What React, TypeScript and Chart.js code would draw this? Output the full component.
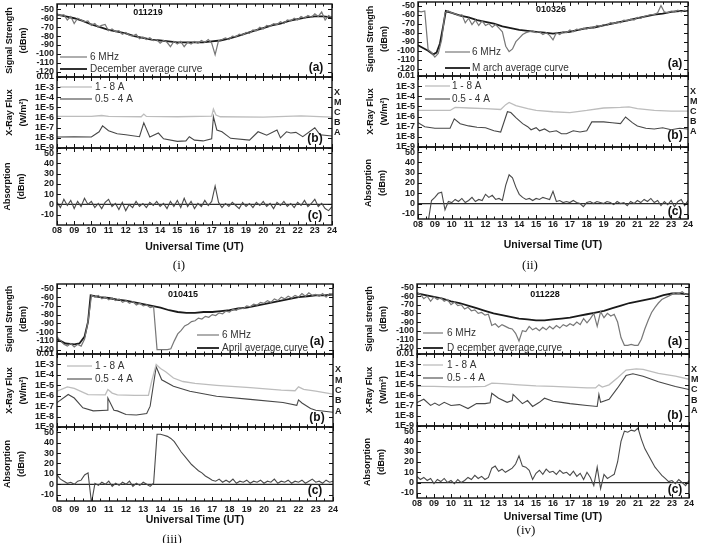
import React, { useEffect, useRef } from "react";
import { Chart, registerables } from "chart.js";

Chart.register(...registerables);

// ---------- time grids & tick values ----------
const T_FINE = Array.from({ length: 81 }, (_, i) => Math.round((8 + i * 0.2) * 10) / 10);
const T_HALF = Array.from({ length: 33 }, (_, i) => 8 + i * 0.5);
const HOUR_TICKS = [8, 9, 10, 11, 12, 13, 14, 15, 16, 17, 18, 19, 20, 21, 22, 23, 24];
const SIGNAL_TICKS = [-50, -60, -70, -80, -90, -100, -110, -120];
const ABS_TICKS = [50, 40, 30, 20, 10, 0, -10];
const FLUX_TICKS = [1e-2, 1e-3, 1e-4, 1e-5, 1e-6, 1e-7, 1e-8, 1e-9];
const FLUX_LABELS = ["0.01", "1E-3", "1E-4", "1E-5", "1E-6", "1E-7", "1E-8", "1E-9"];
const CLASS_TICKS = [3.16e-4, 3.16e-5, 3.16e-6, 3.16e-7, 3.16e-8];
const CLASS_LABELS = ["X", "M", "C", "B", "A"];
const ZERO_T = [8, 24];
const ZERO_V = [0, 0];

// ---------- (i) 011219 ----------
const I_SIG = [
  -55, -57, -56, -62, -58, -66, -60, -62, -64, -63,
  -68, -66, -70, -68, -67, -74, -72, -75, -74, -78,
  -76, -79, -80, -78, -83, -81, -84, -82, -85, -84,
  -88, -85, -87, -92, -86, -89, -86, -92, -87, -89,
  -86, -88, -85, -87, -84, -88, -101, -85, -84, -82,
  -84, -80, -81, -78, -79, -76, -77, -73, -74, -70,
  -72, -68, -69, -66, -67, -64, -66, -62, -63, -60,
  -62, -58, -60, -57, -59, -55, -58, -53, -62, -57,
  -59,
];
const I_AVG = [-56, -58, -60, -63, -67, -70, -73, -75, -77, -80, -82, -84, -85, -86, -87, -87, -87, -87, -86, -85, -83, -80, -77, -74, -71, -68, -66, -63, -61, -59, -58, -58, -59];
const I_XL_T = [8, 10, 10.6, 11, 12.9, 13.05, 13.2, 15, 17.0, 17.1, 17.25, 17.5, 20, 22.2, 24];
const I_XL = [1.3e-6, 1.3e-6, 1.6e-6, 1.3e-6, 1.2e-6, 2.2e-6, 1.3e-6, 1.2e-6, 1.4e-6, 7e-6, 1.8e-6, 1.2e-6, 1.1e-6, 1.5e-6, 1.1e-6];
const I_XS_T = [8, 9, 10, 10.45, 10.65, 11, 11.5, 12, 12.8, 13.05, 13.4, 13.9, 14.2, 15, 15.5, 15.7, 16, 16.5, 17.0, 17.1, 17.3, 17.6, 18.1, 19.2, 19.7, 20.2, 20.8, 21.0, 21.35, 21.6, 21.9, 22.3, 23.0, 23.3, 24];
const I_XS = [1.2e-8, 1.3e-8, 1.2e-8, 4e-8, 1.5e-7, 5e-8, 2.5e-8, 2e-8, 1.3e-8, 3e-7, 1.2e-8, 3e-8, 8e-9, 4.5e-9, 5e-9, 1.3e-8, 6e-9, 5e-9, 8e-9, 1.2e-6, 6e-8, 4e-8, 9e-9, 6e-9, 4e-8, 1.8e-8, 6e-8, 1e-8, 4e-8, 3e-8, 3.5e-8, 1.3e-8, 1e-7, 2e-8, 1.5e-8];
const I_ABS = [
  2, -3, 5, -1, 4, -4, 3, -2, 6, 0,
  3, -3, 1, -4, 2, 5, -2, 1, -5, 2,
  -6, 0, -3, 3, -2, 1, -3, 2, -1, 3,
  -2, 1, -4, 3, -2, 4, -3, 6, -2, 3,
  -4, 1, -2, 4, -1, 3, 18, 2, -3, 1,
  -2, 2, -1, -4, 2, -2, 1, -3, 2, -1,
  3, -2, 1, -4, 2, -1, 3, -2, 1, -3,
  2, -1, 4, -2, 1, 5, -2, 1, -4, -6,
  -2,
];

// ---------- (ii) 010326 ----------
const II_SIG = [
  -56, -57, -56, -99, -102, -107, -103, -88, -58, -56,
  -58, -59, -61, -60, -69, -64, -71, -66, -72, -67,
  -72, -70, -74, -71, -75, -79, -95, -101, -98, -90,
  -86, -82, -80, -79, -78, -80, -79, -82, -80, -83,
  -88, -80, -82, -79, -80, -77, -79, -76, -77, -75,
  -76, -74, -75, -72, -73, -71, -72, -69, -70, -68,
  -69, -66, -67, -65, -66, -63, -64, -62, -61, -60,
  -60, -58, -50, -57, -58, -56, -57, -55, -57, -55,
  -57,
];
const II_AVG_T = [8, 8.3, 8.6, 8.9, 9.1, 9.3, 9.5, 9.65, 10, 10.5, 11, 11.5, 12, 12.5, 13, 13.5, 14, 14.5, 15, 15.5, 16, 16.5, 17, 17.5, 18, 18.5, 19, 19.5, 20, 20.5, 21, 21.5, 22, 22.5, 23, 23.5, 24];
const II_AVG = [-94, -97, -100, -104, -102, -92, -72, -56, -58, -61, -63, -66, -68, -70, -73, -75, -77, -78, -79, -80, -81, -80, -79, -77, -75, -74, -72, -70, -68, -66, -64, -62, -60, -59, -57, -56, -56];
const II_XL_T = [8, 9, 9.9, 10.2, 11, 12, 12.9, 13.2, 13.4, 13.8, 14.5, 15, 16, 17, 18, 19, 20, 20.5, 21, 22, 23, 24];
const II_XL = [4e-6, 4e-6, 4e-6, 8e-6, 7e-6, 6e-6, 5e-6, 1.5e-5, 2.5e-5, 1.2e-5, 6e-6, 4e-6, 3e-6, 2.5e-6, 4e-6, 7e-6, 8e-6, 9e-6, 6e-6, 4e-6, 3.5e-6, 3.5e-6];
const II_XS_T = [8, 8.4, 9, 9.9, 10.15, 10.5, 11, 11.5, 12, 12.5, 12.9, 13.3, 13.5, 13.8, 14.2, 14.5, 14.7, 15, 15.2, 15.5, 15.8, 16.2, 16.5, 16.8, 17.2, 17.6, 18, 18.3, 19, 19.5, 20, 20.3, 20.7, 21, 21.5, 22, 22.5, 23, 23.5, 24];
const II_XS = [2.5e-7, 1e-7, 7e-8, 7e-8, 6e-7, 2e-7, 1.2e-7, 9e-8, 8e-8, 4e-8, 3e-8, 3e-6, 2.5e-6, 8e-7, 2e-7, 1e-7, 5e-8, 8e-8, 4e-8, 6e-8, 3e-8, 4e-8, 2e-8, 2e-8, 4e-8, 3e-8, 4e-8, 3e-7, 3e-7, 2.5e-7, 2e-7, 9e-7, 2.5e-7, 1.2e-7, 7e-8, 6e-8, 8e-8, 5e-8, 7e-8, 6e-8];
const II_ABS = [
  null, null, null, -18, 3, 6, 10, 11, -6, 2,
  1, 4, 2, 5, 1, 3, 6, 2, 4, 3,
  9, 6, 8, 4, 5, 3, 18, 28, 25, 16,
  9, 6, 4, 5, 3, 5, 4, 6, 5, 4,
  12, 2, 3, 1, 2, 1, 3, 1, 0, -3,
  1, 2, 0, 2, 1, 0, 2, 1, -1, 2,
  0, 1, -2, 2, 0, 3, 1, 4, 2, 5,
  1, 3, -2, 2, -1, 3, -3, 2, 4, -2,
  3,
];

// ---------- (iii) 010415 ----------
const III_SIG = [
  -105, -110, -114, -116, -113, -117, -114, -116, -108, -88,
  -58, -60, -58, -62, -60, -63, -61, -64, -62, -66,
  -64, -67, -65, -69, -67, -70, -69, -72, -71, -120,
  -120, -120, -120, -119, -110, -102, -98, -93, -91, -88,
  -87, -84, -85, -82, -83, -80, -81, -78, -79, -76,
  -77, -74, -75, -72, -73, -70, -71, -68, -69, -66,
  -67, -64, -66, -62, -64, -60, -62, -59, -61, -58,
  -60, -56, -59, -55, -58, -57, -59, -56, -60, -56,
  -57,
];
const III_AVG_T = [8, 8.5, 9, 9.3, 9.6, 9.8, 9.95, 10.2, 10.5, 11, 11.5, 12, 12.5, 13, 13.5, 14, 14.5, 15, 15.5, 16, 16.5, 17, 17.5, 18, 18.5, 19, 19.5, 20, 20.5, 21, 21.5, 22, 22.5, 23, 23.5, 24];
const III_AVG = [-108, -113, -114, -113, -105, -88, -58, -59, -60, -61, -63, -64, -66, -68, -70, -72, -75, -77, -78, -78, -77, -77, -76, -75, -73, -72, -70, -68, -66, -64, -62, -60, -59, -58, -58, -57];
const III_XL_T = [8, 8.6, 9.0, 9.8, 10.8, 10.95, 11.2, 11.5, 12.5, 13.3, 13.5, 13.75, 14.0, 14.3, 14.75, 15.3, 16, 17.25, 19.2, 21.0, 21.8, 22.0, 22.3, 23, 24];
const III_XL = [2.7e-6, 7e-6, 5e-6, 1.3e-6, 1.2e-6, 4e-6, 1.8e-6, 1.2e-6, 1.1e-6, 1.1e-6, 3e-5, 1e-3, 4e-4, 2e-4, 5e-5, 2.3e-5, 1.5e-5, 1e-5, 6e-6, 3.5e-6, 3e-6, 7e-6, 4e-6, 2.7e-6, 1.4e-6];
const III_XS_T = [8, 8.65, 9.0, 9.5, 10.1, 10.9, 10.95, 11.3, 11.5, 12.0, 12.6, 13.2, 13.4, 13.75, 14.07, 14.75, 15.7, 17.25, 19.2, 21.1, 21.9, 22.0, 22.2, 22.7, 23.0, 24];
const III_XS = [2.2e-7, 1.3e-6, 6e-7, 7e-8, 3.5e-8, 4e-8, 6e-7, 4e-8, 3.5e-8, 1.6e-8, 1.4e-8, 2e-8, 1e-7, 6e-4, 3.4e-5, 8e-6, 2.7e-6, 9e-7, 4.5e-7, 2.2e-7, 1.2e-7, 4e-7, 2e-7, 6e-8, 4e-8, 2.6e-8];
const III_ABS = [
  9, 5, 3, 1, 2, 0, 3, 4, 9, 11,
  -18, 1, -1, 2, 0, 3, -2, 1, -1, 2,
  0, 3, -2, 1, -1, 2, 0, -2, 1, 48,
  48, 47, 46, 44, 41, 36, 31, 27, 23, 19,
  16, 13, 11, 8, 6, 4, 3, 5, 2, 4,
  2, 5, 1, 3, 2, 4, 1, 3, 2, 4,
  1, 3, 2, 5, 1, 3, 2, 4, 1, 3,
  2, 4, 1, 3, 5, 2, 3, 1, 4, 2,
  3,
];

// ---------- (iv) 011228 ----------
const IV_SIG = [
  -56, -58, -63, -60, -66, -61, -64, -62, -66, -64,
  -70, -67, -71, -70, -75, -73, -77, -76, -80, -79,
  -82, -81, -94, -92, -96, -93, -95, -97, -98, -103,
  -112, -100, -101, -95, -99, -97, -100, -96, -99, -95,
  -98, -94, -97, -93, -95, -92, -94, -90, -93, -86,
  -91, -86, -80, -95, -78, -85, -80, -83, -81, -90,
  -108, -117, -117, -116, -117, -117, -110, -98, -88, -79,
  -73, -68, -64, -62, -60, -58, -56, -57, -55, -58,
  -57,
];
const IV_AVG = [-57, -59, -61, -63, -66, -68, -71, -74, -77, -80, -82, -84, -86, -87, -88, -88, -87, -86, -85, -83, -81, -79, -77, -74, -71, -68, -66, -64, -62, -59, -57, -57, -58];
const IV_XL_T = [8, 9, 10, 11, 12, 12.4, 13, 14, 15, 16, 17, 18, 18.5, 18.7, 18.9, 19.3, 19.8, 20.3, 20.9, 21.3, 22.2, 23.2, 24];
const IV_XL = [7e-6, 7e-6, 6.5e-6, 6.5e-6, 7e-6, 1.5e-5, 1.3e-5, 1e-5, 8e-6, 7e-6, 6e-6, 5e-6, 5e-6, 1e-5, 6e-6, 1e-5, 5e-5, 2.7e-4, 3.5e-4, 3.2e-4, 1.3e-4, 7e-5, 3.5e-5];
const IV_XS_T = [8, 8.4, 8.8, 9.05, 9.3, 9.6, 10, 10.5, 11, 11.5, 12.0, 12.3, 12.4, 12.8, 13.3, 13.6, 13.65, 14.2, 14.5, 14.8, 15.2, 15.5, 16, 16.5, 17, 18, 18.6, 18.7, 18.8, 19.3, 19.8, 20.3, 20.7, 21.3, 22.2, 23.2, 24];
const IV_XS = [1.9e-7, 4e-7, 1e-7, 1.7e-7, 1e-7, 2e-7, 1e-7, 1.2e-7, 5e-8, 1.5e-7, 1.5e-7, 1.8e-7, 1.5e-6, 5e-7, 2e-7, 3e-7, 1.2e-6, 1.5e-7, 3e-7, 8e-8, 2e-7, 5e-7, 2.5e-7, 2e-7, 1.5e-7, 1e-7, 8e-8, 1.2e-6, 2e-7, 4e-7, 5e-6, 8e-5, 1.2e-4, 7e-5, 2e-5, 7e-6, 3.5e-6];
const IV_ABS = [
  6, 3, 5, 2, 4, -1, 3, 1, 4, 0,
  2, -1, 3, 0, 2, 5, 3, 7, 4, 6,
  3, 5, 14, 16, 11, 13, 10, 12, 14, 18,
  26, 16, 15, 12, 3, 9, 12, 8, 13, 10,
  11, 8, 12, 9, 10, 7, 11, 6, 9, 3,
  10, 5, -3, 15, -6, 8, 4, 6, 8, 20,
  40, 50, 49, 51, 50, 53, 42, 33, 27, 21,
  15, 11, 7, 4, 1, 2, -1, 3, 0, -3,
  2,
];

// ---------- styling / layout ----------
const FONT = '"Liberation Sans", Arial, Helvetica, sans-serif';
const C_SIG = "#777777";
const C_AVG = "#1a1a1a";
const C_XL = "#bdbdbd";
const C_XS = "#474747";
const C_ABS = "#4a4a4a";
const C_ZERO = "#2a2a2a";
const PAD_L = 57;
const PAD_T = 11;
const PAD_R = 10;
const PAD_BOT = 11;
const RIGHT_W = 13;

type Txt = { text: string; x: number; y: number; size: number; bold?: boolean; align?: CanvasTextAlign; color?: string };
type Seg = { x1: number; x2: number; y: number; color: string; width: number };

function pts(ts: number[], vs: (number | null)[]) {
  const n = Math.min(ts.length, vs.length);
  const out: { x: number; y: number | null }[] = [];
  for (let i = 0; i < n; i++) out.push({ x: ts[i], y: vs[i] });
  return out;
}
function line(data: any[], color: string, width: number) {
  return { data, borderColor: color, borderWidth: width, pointRadius: 0, tension: 0, fill: false, spanGaps: false, yAxisID: "y", xAxisID: "x" };
}

const decorPlugin = {
  id: "decor",
  afterDatasetsDraw(chart: any, _args: any, opts: any) {
    const { ctx, chartArea: a } = chart;
    const xs = chart.scales.x;
    const ys = chart.scales.y;
    ctx.save();
    ctx.strokeStyle = "#111";
    ctx.lineWidth = 1;
    ctx.beginPath();
    const tick = (x1: number, y1: number, x2: number, y2: number) => {
      ctx.moveTo(x1, y1);
      ctx.lineTo(x2, y2);
    };
    HOUR_TICKS.forEach((h, i) => {
      const p = Math.round(xs.getPixelForValue(h)) + 0.5;
      tick(p, a.top, p, a.top + 4);
      tick(p, a.bottom, p, a.bottom - 4);
      if (i < HOUR_TICKS.length - 1) {
        const q = Math.round(xs.getPixelForValue(h + 0.5)) + 0.5;
        tick(q, a.top, q, a.top + 2.5);
        tick(q, a.bottom, q, a.bottom - 2.5);
      }
    });
    const yv: number[] = ys.ticks.map((t: any) => t.value);
    yv.forEach((v) => {
      const p = Math.round(ys.getPixelForValue(v)) + 0.5;
      tick(a.left, p, a.left + 4, p);
      tick(a.right, p, a.right - 4, p);
    });
    ctx.stroke();
    ctx.lineWidth = 1.4;
    ctx.strokeRect(a.left, a.top, a.right - a.left, a.bottom - a.top);
    (opts.segs || []).forEach((s: Seg) => {
      ctx.beginPath();
      ctx.strokeStyle = s.color;
      ctx.lineWidth = s.width;
      ctx.moveTo(a.left + s.x1, a.top + s.y);
      ctx.lineTo(a.left + s.x2, a.top + s.y);
      ctx.stroke();
    });
    (opts.texts || []).forEach((t: Txt) => {
      ctx.font = `${t.bold ? "bold " : ""}${t.size}px ${FONT}`;
      ctx.fillStyle = t.color || "#111";
      ctx.textAlign = t.align || "left";
      ctx.textBaseline = "middle";
      ctx.fillText(t.text, a.left + t.x, a.top + t.y);
    });
    ctx.restore();
  },
};

type SubSpec = {
  left: number; top: number; w: number; h: number;
  right: boolean; showX: boolean; padB: number; xPad: number;
  yType: "linear" | "logarithmic"; yMin: number; yMax: number;
  yTicks: number[]; yLabels: string[]; yTitle: string[]; titlePad: number;
  datasets: any[]; texts: Txt[]; segs: Seg[];
};

function buildConfig(s: SubSpec): any {
  const tickFont = { family: FONT, size: 9, weight: "bold" as const };
  const noGrid = { display: false, drawTicks: false, tickLength: 0 };
  const scales: any = {
    x: {
      type: "linear", min: 8, max: 24, bounds: "data", display: s.showX,
      afterBuildTicks: (sc: any) => { sc.ticks = HOUR_TICKS.map((v) => ({ value: v })); },
      afterFit: (sc: any) => { if (s.showX) sc.height = s.padB; },
      grid: noGrid, border: { display: false },
      ticks: {
        font: tickFont, color: "#1a1a1a", padding: s.xPad, maxRotation: 0, autoSkip: false,
        callback: (v: any) => (v < 10 ? "0" : "") + v,
      },
      title: { display: s.showX, text: "Universal Time (UT)", font: { family: FONT, size: 10.5, weight: "bold" }, color: "#111", padding: 0 },
    },
    y: {
      type: s.yType, min: s.yMin, max: s.yMax, bounds: "data", position: "left",
      afterBuildTicks: (sc: any) => { sc.ticks = s.yTicks.map((v) => ({ value: v })); },
      afterFit: (sc: any) => { sc.width = PAD_L; },
      grid: noGrid, border: { display: false },
      ticks: { font: tickFont, color: "#1a1a1a", padding: 3, autoSkip: false, callback: (_v: any, i: number) => s.yLabels[i] },
      title: {
        display: true, text: s.yTitle, color: "#111",
        font: { family: FONT, size: 9, weight: "bold", lineHeight: "14px" },
        padding: { top: s.titlePad, bottom: 0 },
      },
    },
  };
  if (s.right) {
    scales.y2 = {
      type: "logarithmic", min: 1e-9, max: 1e-2, bounds: "data", position: "right",
      afterBuildTicks: (sc: any) => { sc.ticks = CLASS_TICKS.map((v) => ({ value: v })); },
      afterFit: (sc: any) => { sc.width = RIGHT_W; },
      grid: noGrid, border: { display: false },
      ticks: { font: tickFont, color: "#1a1a1a", padding: 2, autoSkip: false, callback: (_v: any, i: number) => CLASS_LABELS[i] },
    };
  }
  return {
    type: "line",
    data: { datasets: s.datasets },
    options: {
      animation: false, responsive: false, maintainAspectRatio: false, events: [],
      layout: { autoPadding: false, padding: { left: 0, top: PAD_T, right: s.right ? 0 : PAD_R, bottom: s.showX ? 0 : PAD_BOT } },
      plugins: { legend: { display: false }, tooltip: { enabled: false }, decor: { texts: s.texts, segs: s.segs } },
      scales,
    },
    plugins: [decorPlugin],
  };
}

function SubChart({ s }: { s: SubSpec }) {
  const ref = useRef<HTMLCanvasElement>(null);
  const cw = PAD_L + s.w + (s.right ? RIGHT_W : PAD_R);
  const ch = PAD_T + s.h + (s.showX ? s.padB : PAD_BOT);
  useEffect(() => {
    const chart = new Chart(ref.current as HTMLCanvasElement, buildConfig(s));
    return () => chart.destroy();
  }, []);
  return (
    <canvas
      ref={ref}
      width={cw}
      height={ch}
      style={{ position: "absolute", left: s.left - PAD_L, top: s.top - PAD_T, width: cw, height: ch }}
    />
  );
}

type PanelDef = {
  L: number; R: number; T: number[]; padB: number; xPad: number;
  label: string; lx: number; ly: number;
  sigRange: number[]; absRange: number[]; sigTitle: string;
  sig: number[]; avgT: number[]; avg: number[];
  xlT: number[]; xl: number[]; xsT: number[]; xs: number[]; abs: (number | null)[];
  date: { text: string; x: number; y: number };
  tag: number[][];
  legA: { x1: number; x2: number; tx: number; y1: number; y2: number; avgName: string };
  legB: { x1: number; x2: number; tx: number; y1: number; y2: number };
};

const PANELS: PanelDef[] = [
  {
    L: 57, R: 332, T: [4, 77, 148, 225], padB: 28, xPad: 0, label: "(i)", lx: 179, ly: 265,
    sigRange: [-126, -44], absRange: [-20, 55], sigTitle: "Signal Strength",
    sig: I_SIG, avgT: T_HALF, avg: I_AVG, xlT: I_XL_T, xl: I_XL, xsT: I_XS_T, xs: I_XS, abs: I_ABS,
    date: { text: "011219", x: 91, y: 9 },
    tag: [[259, 64], [258, 62], [258, 68]],
    legA: { x1: 3, x2: 30, tx: 33, y1: 53, y2: 65, avgName: "December average curve" },
    legB: { x1: 3, x2: 35, tx: 38, y1: 10, y2: 22 },
  },
  {
    L: 418, R: 688, T: [2, 76, 147, 219], padB: 32, xPad: 0, label: "(ii)", lx: 530, ly: 265,
    sigRange: [-128, -46], absRange: [-15, 55], sigTitle: "Signal Strength",
    sig: II_SIG, avgT: II_AVG_T, avg: II_AVG, xlT: II_XL_T, xl: II_XL, xsT: II_XS_T, xs: II_XS, abs: II_ABS,
    date: { text: "010326", x: 133, y: 8 },
    tag: [[257, 62], [257, 60], [257, 65]],
    legA: { x1: 27, x2: 52, tx: 54, y1: 50, y2: 66, avgName: "M arch average curve" },
    legB: { x1: 7, x2: 32, tx: 34, y1: 10, y2: 23 },
  },
  {
    L: 57, R: 333, T: [284, 354, 427, 501], padB: 25, xPad: 3, label: "(iii)", lx: 172, ly: 539,
    sigRange: [-125, -45], absRange: [-16, 55], sigTitle: "Signal Strength",
    sig: III_SIG, avgT: III_AVG_T, avg: III_AVG, xlT: III_XL_T, xl: III_XL, xsT: III_XS_T, xs: III_XS, abs: III_ABS,
    date: { text: "010415", x: 126, y: 11 },
    tag: [[260, 58], [260, 64], [258, 64]],
    legA: { x1: 140, x2: 162, tx: 165, y1: 51, y2: 64, avgName: "April average curve" },
    legB: { x1: 10, x2: 35, tx: 38, y1: 12, y2: 25 },
  },
  {
    L: 417, R: 689, T: [284, 354, 426, 498], padB: 25, xPad: 0, label: "(iv)", lx: 526, ly: 530,
    sigRange: [-127, -46], absRange: [-15, 55], sigTitle: "Signal strength",
    sig: IV_SIG, avgT: T_HALF, avg: IV_AVG, xlT: IV_XL_T, xl: IV_XL, xsT: IV_XS_T, xs: IV_XS, abs: IV_ABS,
    date: { text: "011228", x: 128, y: 11 },
    tag: [[258, 58], [258, 62], [258, 64]],
    legA: { x1: 6, x2: 26, tx: 30, y1: 49, y2: 64, avgName: "D ecember average curve" },
    legB: { x1: 6, x2: 26, tx: 30, y1: 11, y2: 24 },
  },
];

function specsFor(p: PanelDef): SubSpec[] {
  const w = p.R - p.L;
  const legText = (text: string, x: number, y: number): Txt => ({ text, x, y, size: 10, color: "#333" });
  const top: SubSpec = {
    left: p.L, top: p.T[0], w, h: p.T[1] - p.T[0], right: false, showX: false, padB: 0, xPad: 0,
    yType: "linear", yMin: p.sigRange[0], yMax: p.sigRange[1], yTicks: SIGNAL_TICKS, yLabels: SIGNAL_TICKS.map(String),
    yTitle: [p.sigTitle, "(dBm)"], titlePad: 3,
    datasets: [line(pts(T_FINE, p.sig), C_SIG, 1.2), line(pts(p.avgT, p.avg), C_AVG, 1.8)],
    texts: [
      { text: p.date.text, x: p.date.x, y: p.date.y, size: 9, bold: true, align: "center" },
      { text: "(a)", x: p.tag[0][0], y: p.tag[0][1], size: 12, bold: true, align: "center" },
      legText("6 MHz", p.legA.tx, p.legA.y1),
      legText(p.legA.avgName, p.legA.tx, p.legA.y2),
    ],
    segs: [
      { x1: p.legA.x1, x2: p.legA.x2, y: p.legA.y1, color: C_SIG, width: 1.2 },
      { x1: p.legA.x1, x2: p.legA.x2, y: p.legA.y2, color: C_AVG, width: 1.8 },
    ],
  };
  const mid: SubSpec = {
    left: p.L, top: p.T[1], w, h: p.T[2] - p.T[1], right: true, showX: false, padB: 0, xPad: 0,
    yType: "logarithmic", yMin: 1e-9, yMax: 1e-2, yTicks: FLUX_TICKS, yLabels: FLUX_LABELS,
    yTitle: ["X-Ray Flux", "(W/m²)"], titlePad: 3,
    datasets: [line(pts(p.xlT, p.xl), C_XL, 1.3), line(pts(p.xsT, p.xs), C_XS, 1.1)],
    texts: [
      { text: "(b)", x: p.tag[1][0], y: p.tag[1][1], size: 12, bold: true, align: "center" },
      legText("1 - 8 A", p.legB.tx, p.legB.y1),
      legText("0.5 - 4 A", p.legB.tx, p.legB.y2),
    ],
    segs: [
      { x1: p.legB.x1, x2: p.legB.x2, y: p.legB.y1, color: C_XL, width: 1.3 },
      { x1: p.legB.x1, x2: p.legB.x2, y: p.legB.y2, color: C_XS, width: 1.1 },
    ],
  };
  const bot: SubSpec = {
    left: p.L, top: p.T[2], w, h: p.T[3] - p.T[2], right: false, showX: true, padB: p.padB, xPad: p.xPad,
    yType: "linear", yMin: p.absRange[0], yMax: p.absRange[1], yTicks: ABS_TICKS, yLabels: ABS_TICKS.map(String),
    yTitle: ["Absorption", "(dBm)"], titlePad: 1,
    datasets: [line(pts(T_FINE, p.abs), C_ABS, 1.1), line(pts(ZERO_T, ZERO_V), C_ZERO, 1.3)],
    texts: [{ text: "(c)", x: p.tag[2][0], y: p.tag[2][1], size: 12, bold: true, align: "center" }],
    segs: [],
  };
  return [top, mid, bot];
}

export default function App() {
  return (
    <div style={{ position: "absolute", left: 0, top: 0, width: 702, height: 543, background: "#fff", overflow: "hidden" }}>
      {PANELS.map((p, pi) => (
        <React.Fragment key={pi}>
          {specsFor(p).map((s, si) => (
            <SubChart key={si} s={s} />
          ))}
          <div
            style={{
              position: "absolute", left: p.lx - 30, top: p.ly - 8, width: 60, textAlign: "center",
              fontFamily: '"Liberation Serif", "Times New Roman", serif', fontSize: 13, lineHeight: "16px", color: "#111",
            }}
          >
            {p.label}
          </div>
        </React.Fragment>
      ))}
    </div>
  );
}
